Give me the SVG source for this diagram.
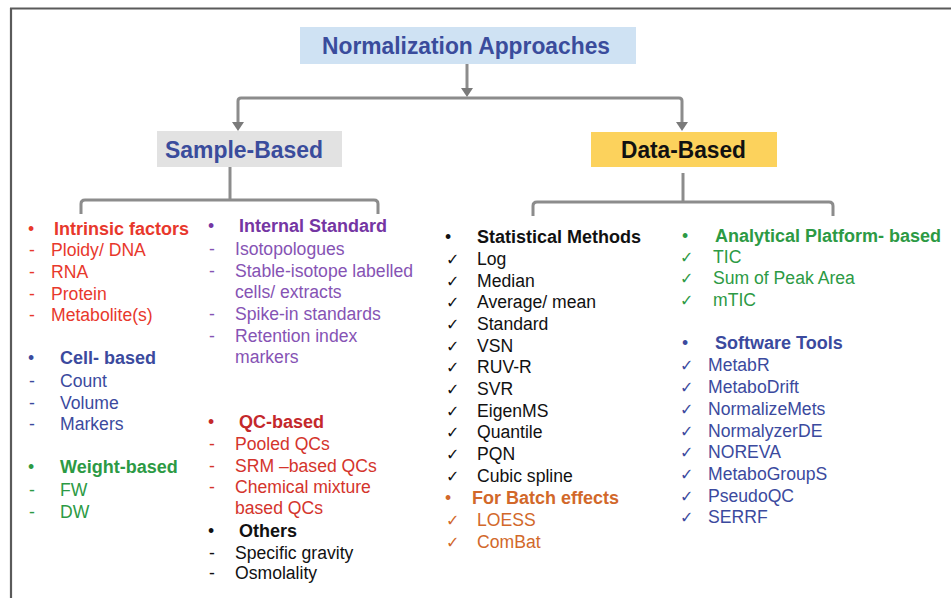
<svg xmlns="http://www.w3.org/2000/svg" width="951" height="598" viewBox="0 0 951 598">
<style>
text{font-family:"Liberation Sans",Arial,sans-serif;font-size:17.6px}
.b{font-weight:bold;font-size:18px}
.ck{font-family:"DejaVu Sans",sans-serif;font-size:16px}
.con{fill:none;stroke:#8c8c8c;stroke-width:3;stroke-linejoin:round}
.head{fill:#7a7a7a}
.red{fill:#e8382c}
.dred{fill:#c4282b}
.qc{fill:#d4342c}
.blue{fill:#3b4a9e}
.green{fill:#2c9a44}
.purple{fill:#7436a3}
.lpurple{fill:#8653b4}
.orange{fill:#d2682a}
.blk{fill:#111}
</style>
<rect width="951" height="598" fill="#ffffff"/>
<g id="frame">
<line x1="10" y1="8.5" x2="951" y2="8.5" stroke="#5a5a5a" stroke-width="2.2"/>
<line x1="11" y1="8" x2="11" y2="598" stroke="#5a5a5a" stroke-width="2.2"/>
</g>
<g id="connectors">
<path class="con" d="M467,64 V90"/>
<path class="head" d="M461,88 L467,97 L473,88 z"/>
<path class="con" d="M238,124 V101 Q238,98 241,98 H679 Q682,98 682,101 V124"/>
<path class="head" d="M232,122 L238,131 L244,122 z"/>
<path class="head" d="M676,122 L682,131 L688,122 z"/>
<path class="con" d="M230,167 V200"/>
<path class="con" d="M81,214 V204 Q81,200 85,200 H374 Q378,200 378,204 V214"/>
<path class="con" d="M683,173 V202"/>
<path class="con" d="M533,216 V206 Q533,202 537,202 H829 Q833,202 833,206 V216"/>
</g>
<g id="title">
<rect x="300" y="27" width="336" height="37" fill="#cfe2f3"/>
<text x="466" y="53.5" text-anchor="middle" style="font-weight:bold;font-size:23px;fill:#3a4c9c" textLength="288" lengthAdjust="spacingAndGlyphs">Normalization Approaches</text>
</g>
<g id="sample-based">
<rect x="157" y="131" width="185" height="36" fill="#e2e2e2"/>
<text x="244" y="157.5" text-anchor="middle" style="font-weight:bold;font-size:23px;fill:#3a4c9c" textLength="158" lengthAdjust="spacingAndGlyphs">Sample-Based</text>
</g>
<g id="data-based">
<rect x="591" y="132" width="186" height="35" fill="#fcd25c"/>
<text x="683.5" y="157.5" text-anchor="middle" style="font-weight:bold;font-size:23px;fill:#111" textLength="125" lengthAdjust="spacingAndGlyphs">Data-Based</text>
</g>
<g id="intrinsic-factors">
<text x="28" y="235" class="red">•</text><text x="54" y="235" class="b red">Intrinsic factors</text>
<text x="29" y="256" class="red">-</text><text x="51" y="256" class="red">Ploidy/ DNA</text>
<text x="29" y="278" class="red">-</text><text x="51" y="278" class="red">RNA</text>
<text x="29" y="300" class="red">-</text><text x="51" y="300" class="red">Protein</text>
<text x="29" y="321" class="red">-</text><text x="51" y="321" class="red">Metabolite(s)</text>
</g>
<g id="cell-based">
<text x="28" y="364" class="blue">•</text><text x="60" y="364" class="b blue">Cell- based</text>
<text x="29" y="387" class="blue">-</text><text x="60" y="387" class="blue">Count</text>
<text x="29" y="409" class="blue">-</text><text x="60" y="409" class="blue">Volume</text>
<text x="29" y="430" class="blue">-</text><text x="60" y="430" class="blue">Markers</text>
</g>
<g id="weight-based">
<text x="28" y="473" class="green">•</text><text x="60" y="473" class="b green">Weight-based</text>
<text x="29" y="496" class="green">-</text><text x="60" y="496" class="green">FW</text>
<text x="29" y="518" class="green">-</text><text x="60" y="518" class="green">DW</text>
</g>
<g id="internal-standard">
<text x="208" y="232" class="purple">•</text><text x="239" y="232" class="b purple">Internal Standard</text>
<text x="209" y="255" class="lpurple">-</text><text x="235" y="255" class="lpurple">Isotopologues</text>
<text x="209" y="277" class="lpurple">-</text><text x="235" y="277" class="lpurple">Stable-isotope labelled</text>
<text x="235" y="298" class="lpurple">cells/ extracts</text>
<text x="209" y="320" class="lpurple">-</text><text x="235" y="320" class="lpurple">Spike-in standards</text>
<text x="209" y="342" class="lpurple">-</text><text x="235" y="342" class="lpurple">Retention index</text>
<text x="235" y="363" class="lpurple">markers</text>
</g>
<g id="qc-based">
<text x="208" y="428" class="dred">•</text><text x="239" y="428" class="b dred">QC-based</text>
<text x="209" y="450" class="qc">-</text><text x="235" y="450" class="qc">Pooled QCs</text>
<text x="209" y="472" class="qc">-</text><text x="235" y="472" class="qc">SRM –based QCs</text>
<text x="209" y="493" class="qc">-</text><text x="235" y="493" class="qc">Chemical mixture</text>
<text x="235" y="514" class="qc">based QCs</text>
</g>
<g id="others">
<text x="208" y="537" class="blk">•</text><text x="239" y="537" class="b blk">Others</text>
<text x="209" y="559" class="blk">-</text><text x="235" y="559" class="blk">Specific gravity</text>
<text x="209" y="579" class="blk">-</text><text x="235" y="579" class="blk">Osmolality</text>
</g>
<g id="statistical-methods">
<text x="445" y="243" class="blk">•</text><text x="477" y="243" class="b blk">Statistical Methods</text>
<text x="446" y="265" class="ck blk">✓</text><text x="477" y="265" class="blk">Log</text>
<text x="446" y="287" class="ck blk">✓</text><text x="477" y="287" class="blk">Median</text>
<text x="446" y="308" class="ck blk">✓</text><text x="477" y="308" class="blk">Average/ mean</text>
<text x="446" y="330" class="ck blk">✓</text><text x="477" y="330" class="blk">Standard</text>
<text x="446" y="352" class="ck blk">✓</text><text x="477" y="352" class="blk">VSN</text>
<text x="446" y="373" class="ck blk">✓</text><text x="477" y="373" class="blk">RUV-R</text>
<text x="446" y="395" class="ck blk">✓</text><text x="477" y="395" class="blk">SVR</text>
<text x="446" y="417" class="ck blk">✓</text><text x="477" y="417" class="blk">EigenMS</text>
<text x="446" y="438" class="ck blk">✓</text><text x="477" y="438" class="blk">Quantile</text>
<text x="446" y="460" class="ck blk">✓</text><text x="477" y="460" class="blk">PQN</text>
<text x="446" y="482" class="ck blk">✓</text><text x="477" y="482" class="blk">Cubic spline</text>
</g>
<g id="batch-effects">
<text x="445" y="504" class="orange">•</text><text x="472" y="504" class="b orange">For Batch effects</text>
<text x="446" y="526" class="ck orange">✓</text><text x="477" y="526" class="orange">LOESS</text>
<text x="446" y="548" class="ck orange">✓</text><text x="477" y="548" class="orange">ComBat</text>
</g>
<g id="analytical-platform">
<text x="682" y="242" class="green">•</text><text x="715" y="242" class="b green">Analytical Platform- based</text>
<text x="680" y="263" class="ck green">✓</text><text x="713" y="263" class="green">TIC</text>
<text x="680" y="284" class="ck green">✓</text><text x="713" y="284" class="green">Sum of Peak Area</text>
<text x="680" y="306" class="ck green">✓</text><text x="713" y="306" class="green">mTIC</text>
</g>
<g id="software-tools">
<text x="682" y="349" class="blue">•</text><text x="715" y="349" class="b blue">Software Tools</text>
<text x="680" y="371" class="ck blue">✓</text><text x="708" y="371" class="blue">MetabR</text>
<text x="680" y="393" class="ck blue">✓</text><text x="708" y="393" class="blue">MetaboDrift</text>
<text x="680" y="415" class="ck blue">✓</text><text x="708" y="415" class="blue">NormalizeMets</text>
<text x="680" y="437" class="ck blue">✓</text><text x="708" y="437" class="blue">NormalyzerDE</text>
<text x="680" y="458" class="ck blue">✓</text><text x="708" y="458" class="blue">NOREVA</text>
<text x="680" y="480" class="ck blue">✓</text><text x="708" y="480" class="blue">MetaboGroupS</text>
<text x="680" y="502" class="ck blue">✓</text><text x="708" y="502" class="blue">PseudoQC</text>
<text x="680" y="523" class="ck blue">✓</text><text x="708" y="523" class="blue">SERRF</text>
</g>
</svg>
